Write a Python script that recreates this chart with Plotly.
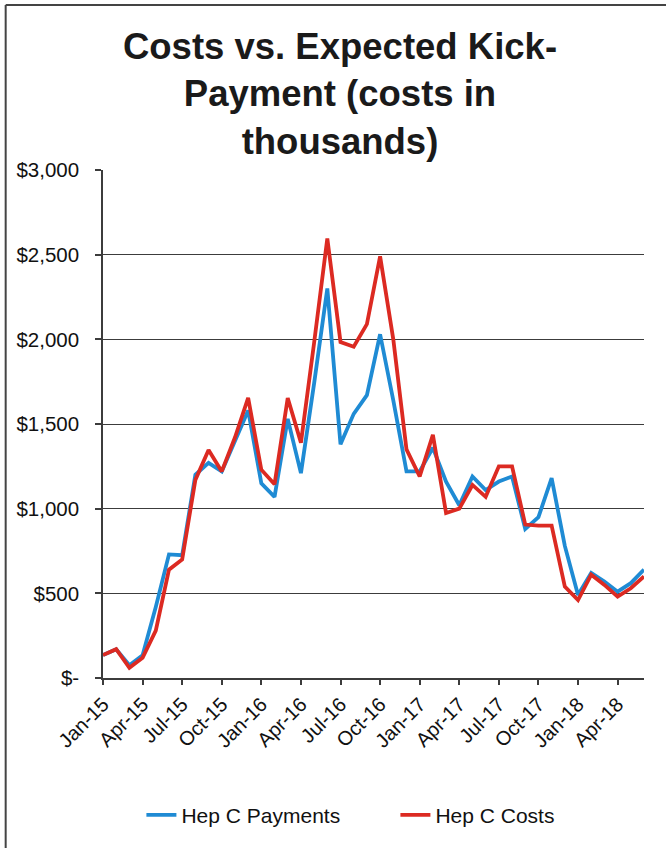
import plotly.graph_objects as go

# Monthly periods, Jan-15 through Jun-18
months = [
    "Jan-15", "Feb-15", "Mar-15", "Apr-15", "May-15", "Jun-15",
    "Jul-15", "Aug-15", "Sep-15", "Oct-15", "Nov-15", "Dec-15",
    "Jan-16", "Feb-16", "Mar-16", "Apr-16", "May-16", "Jun-16",
    "Jul-16", "Aug-16", "Sep-16", "Oct-16", "Nov-16", "Dec-16",
    "Jan-17", "Feb-17", "Mar-17", "Apr-17", "May-17", "Jun-17",
    "Jul-17", "Aug-17", "Sep-17", "Oct-17", "Nov-17", "Dec-17",
    "Jan-18", "Feb-18", "Mar-18", "Apr-18", "May-18", "Jun-18",
]

# Values in thousands of dollars
hep_c_payments = [
    135, 170, 75, 135, 420, 730,
    725, 1200, 1270, 1220, 1400, 1580,
    1150, 1070, 1530, 1210, 1740, 2300,
    1380, 1560, 1670, 2030, 1640, 1220,
    1220, 1360, 1160, 1020, 1190, 1110,
    1160, 1190, 880, 950, 1180, 780,
    490, 620, 570, 510, 560, 640,
]
hep_c_costs = [
    135, 170, 60, 120, 280, 640,
    700, 1170, 1346, 1220, 1420, 1654,
    1230, 1144, 1654, 1390, 1980, 2596,
    1984, 1956, 2090, 2490, 2000, 1350,
    1190, 1436, 974, 1000, 1140, 1070,
    1250, 1250, 906, 900, 900, 540,
    460, 610, 550, 480, 530, 600,
]

x_tick_labels = months[::3]
y_tick_values = [0, 500, 1000, 1500, 2000, 2500, 3000]
y_tick_labels = ["$-", "$500", "$1,000", "$1,500", "$2,000", "$2,500", "$3,000"]

FONT = "Liberation Sans, Arial, sans-serif"
AXIS_COLOR = "#3c3c3c"

fig = go.Figure()
fig.add_trace(go.Scatter(
    x=months, y=hep_c_payments, mode="lines", name="Hep C Payments",
    line=dict(color="#1f8bd4", width=3.8),
))
fig.add_trace(go.Scatter(
    x=months, y=hep_c_costs, mode="lines", name="Hep C Costs",
    line=dict(color="#dc2a22", width=3.8),
))

fig.update_layout(
    width=666, height=848,
    margin=dict(l=102.5, r=21.5, t=170, b=170),
    paper_bgcolor="white", plot_bgcolor="white",
    font=dict(family=FONT, color="#111111"),
    title=dict(
        text="<b>Costs vs. Expected Kick-<br>Payment (costs in<br>thousands)</b>",
        font=dict(family=FONT, size=36.5, color="#1a1a1a"),
        x=0.5105, xanchor="center", xref="container",
        y=1 - 59 / 848, yanchor="top", yref="container",
    ),
    showlegend=True,
    legend=dict(
        orientation="h", x=0.071, xanchor="left", y=-0.27, yanchor="middle",
        font=dict(family=FONT, size=21, color="#111111"),
        traceorder="normal", bgcolor="rgba(0,0,0,0)",
        entrywidth=209, entrywidthmode="pixels",
    ),
    xaxis=dict(
        type="category", range=[0, 41],
        tickmode="array", tickvals=x_tick_labels, ticktext=x_tick_labels,
        tickangle=-45, tickfont=dict(family=FONT, size=20, color="#111111"),
        ticks="outside", ticklen=5, tickcolor=AXIS_COLOR, tickwidth=1.5,
        showline=True, linecolor=AXIS_COLOR, linewidth=1.5,
        showgrid=False, zeroline=False,
    ),
    yaxis=dict(
        range=[0, 3000],
        tickmode="array", tickvals=y_tick_values, ticktext=y_tick_labels,
        tickfont=dict(family=FONT, size=20.5, color="#111111"),
        ticks="outside", ticklen=6, tickcolor=AXIS_COLOR, tickwidth=1.5,
        ticklabelstandoff=12,
        showline=True, linecolor=AXIS_COLOR, linewidth=1.5,
        showgrid=True, gridcolor=AXIS_COLOR, gridwidth=1.2,
        zeroline=False,
    ),
    shapes=[
        # outer frame: left and top edges
        dict(type="line", xref="paper", yref="paper",
             x0=-0.1799, x1=-0.1799, y0=1.3248, y1=-0.34,
             line=dict(color="#444444", width=2)),
        dict(type="line", xref="paper", yref="paper",
             x0=-0.1799, x1=1.05, y0=1.3248, y1=1.3248,
             line=dict(color="#444444", width=2)),
    ],
)

fig.write_html("out.html")
